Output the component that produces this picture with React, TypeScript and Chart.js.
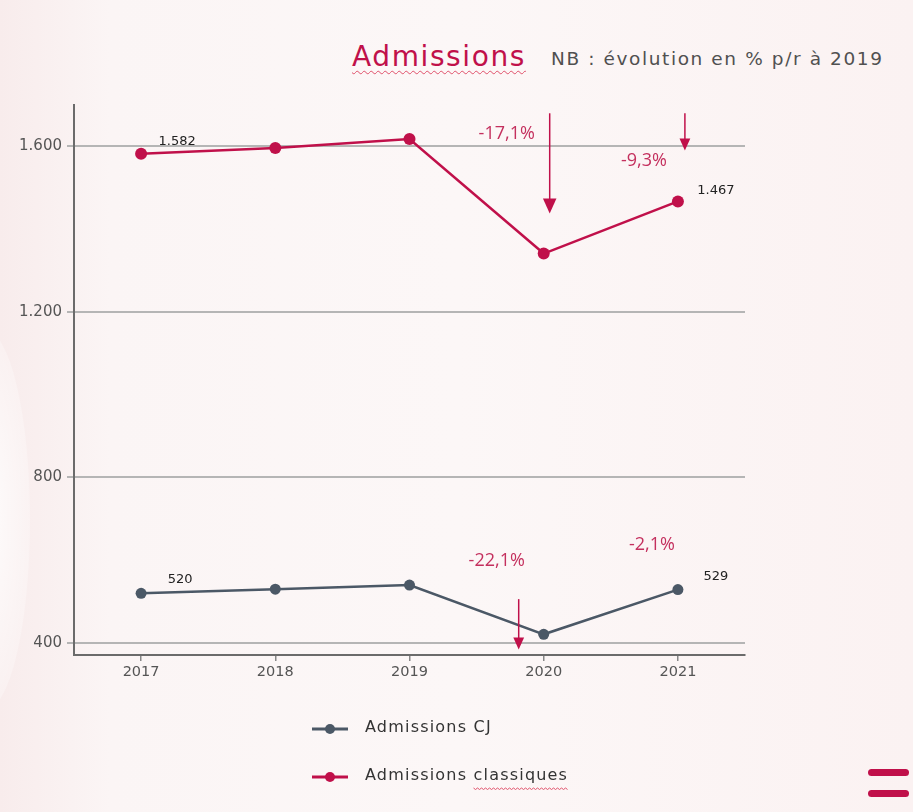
import React, { useEffect, useRef } from "react";
import { Chart, registerables } from "chart.js";
Chart.register(...registerables);

const years = ["2017", "2018", "2019", "2020", "2021"];
const classiques = [1582, 1596, 1618, 1341, 1467];
const cj = [520, 530, 540, 421, 529];
const yTicks = [400, 800, 1200, 1600];
const yTickLabels = ["400", "800", "1.200", "1.600"];
const seriesNames = ["Admissions CJ", "Admissions classiques"];
const valueLabels = ["1.582", "1.467", "520", "529"];
const pctLabels = ["-17,1%", "-9,3%", "-22,1%", "-2,1%"];

const CRIMSON = "#c0104a";
const SLATE = "#4b5866";
const FONT = "'Open Sans', 'Noto Sans', sans-serif";
const WIDE = "'DejaVu Sans', sans-serif";

// annotation anchors (category index + value on y axis, with small pixel offsets)
const valueLabelAnchors = [
  { ds: 1, idx: 0, dx: 36, dy: -12 },
  { ds: 1, idx: 4, dx: 38, dy: -11 },
  { ds: 0, idx: 0, dx: 39, dy: -14 },
  { ds: 0, idx: 4, dx: 38, dy: -13 },
];
const pctAnchors = [
  { idx: 3, value: 1631, dx: -37 },
  { idx: 4, value: 1566, dx: -34 },
  { idx: 3, value: 598, dx: -47 },
  { idx: 4, value: 636, dx: -26 },
];
const arrowAnchors = [
  { idx: 3, from: 1680, to: 1438, dx: 6, head: 15 },
  { idx: 4, from: 1680, to: 1590, dx: 7, head: 12 },
  { idx: 3, from: 506, to: 384, dx: -25, head: 12 },
];

const overlay = {
  id: "overlay",
  afterDatasetsDraw(chart: any) {
    const ctx = chart.ctx;
    const xs = chart.scales.x;
    const ys = chart.scales.y;
    ctx.save();
    // value labels
    ctx.font = `13px ${WIDE}`;
    ctx.fillStyle = "#222";
    ctx.textAlign = "center";
    ctx.textBaseline = "middle";
    valueLabelAnchors.forEach((a, i) => {
      const meta = chart.getDatasetMeta(a.ds);
      const pt = meta.data[a.idx];
      ctx.fillText(valueLabels[i], pt.x + a.dx, pt.y + a.dy);
    });
    // pct labels
    ctx.font = `18px ${FONT}`;
    ctx.fillStyle = "#c4305e";
    pctAnchors.forEach((a, i) => {
      ctx.fillText(pctLabels[i], xs.getPixelForValue(a.idx) + a.dx, ys.getPixelForValue(a.value));
    });
    // arrows
    ctx.strokeStyle = CRIMSON;
    ctx.fillStyle = CRIMSON;
    ctx.lineWidth = 1.5;
    arrowAnchors.forEach((a) => {
      const x = xs.getPixelForValue(a.idx) + a.dx;
      const y1 = ys.getPixelForValue(a.from);
      const y2 = ys.getPixelForValue(a.to);
      ctx.beginPath();
      ctx.moveTo(x, y1);
      ctx.lineTo(x, y2 - a.head + 2);
      ctx.stroke();
      ctx.beginPath();
      ctx.moveTo(x - a.head * 0.45, y2 - a.head);
      ctx.lineTo(x + a.head * 0.45, y2 - a.head);
      ctx.lineTo(x, y2);
      ctx.closePath();
      ctx.fill();
    });
    // legend
    const items = [
      { color: SLATE, y: 729 },
      { color: CRIMSON, y: 777 },
    ];
    ctx.font = `16px ${WIDE}`;
    (ctx as any).letterSpacing = "1.2px";
    ctx.textAlign = "left";
    items.forEach((it, i) => {
      ctx.strokeStyle = it.color;
      ctx.fillStyle = it.color;
      ctx.lineWidth = 3;
      ctx.beginPath();
      ctx.moveTo(312, it.y);
      ctx.lineTo(348, it.y);
      ctx.stroke();
      ctx.beginPath();
      ctx.arc(330, it.y, 5, 0, Math.PI * 2);
      ctx.fill();
      ctx.fillStyle = "#333";
      ctx.fillText(seriesNames[i], 365, it.y - 1);
    });
    // squiggly underline under "classiques"
    const start = 365 + ctx.measureText("Admissions ").width;
    const w = ctx.measureText("classiques").width;
    ctx.strokeStyle = "#e0506a";
    ctx.lineWidth = 1;
    ctx.beginPath();
    for (let x = 0; x <= w; x += 2) {
      const yy = 788 + (Math.floor(x / 2) % 2 === 0 ? 0 : 1.5);
      if (x === 0) ctx.moveTo(start + x, yy);
      else ctx.lineTo(start + x, yy);
    }
    ctx.stroke();
    ctx.restore();
  },
};

export default function App() {
  const ref = useRef<HTMLCanvasElement | null>(null);
  useEffect(() => {
    if (!ref.current) return;
    const chart = new Chart(ref.current, {
      type: "line",
      data: {
        labels: years,
        datasets: [
          {
            label: seriesNames[0],
            data: cj,
            borderColor: SLATE,
            backgroundColor: SLATE,
            borderWidth: 2.5,
            pointRadius: 5.5,
            pointBackgroundColor: SLATE,
            pointBorderWidth: 0,
            tension: 0,
          },
          {
            label: seriesNames[1],
            data: classiques,
            borderColor: CRIMSON,
            backgroundColor: CRIMSON,
            borderWidth: 2.5,
            pointRadius: 6,
            pointBackgroundColor: CRIMSON,
            pointBorderWidth: 0,
            tension: 0,
          },
        ],
      },
      options: {
        responsive: false,
        animation: false,
        layout: { padding: { left: 0, top: 105, right: 168, bottom: 117 } },
        plugins: { legend: { display: false }, tooltip: { enabled: false } },
        scales: {
          x: {
            offset: true,
            afterFit: (s: any) => {
              s.height = 40;
            },
            grid: { display: true, drawOnChartArea: false, drawTicks: true, tickLength: 6, color: "#888", lineWidth: 1.5 },
            border: { display: true, color: "#6b6b6b", width: 2 },
            ticks: { color: "#555", font: { family: WIDE, size: 14.5 }, padding: 3 },
          },
          y: {
            min: 371,
            max: 1700,
            afterFit: (s: any) => {
              s.width = 74;
            },
            afterBuildTicks: (s: any) => {
              s.ticks = yTicks.map((v) => ({ value: v }));
            },
            grid: { color: "#b5b5b5", lineWidth: 2, tickLength: 7, drawTicks: true },
            border: { display: true, color: "#6b6b6b", width: 2 },
            ticks: {
              color: "#555",
              font: { family: WIDE, size: 15 },
              padding: 5,
              callback: (v: any) => yTickLabels[yTicks.indexOf(Number(v))],
            },
          },
        },
      },
      plugins: [overlay],
    });
    return () => chart.destroy();
  }, []);

  return (
    <div
      style={{
        position: "fixed",
        left: 0,
        top: 0,
        width: 913,
        height: 812,
        overflow: "hidden",
        background: "linear-gradient(to right, #f8ecec 0%, #fbf5f5 12%, #fcf7f7 50%, #fbf2f2 100%)",
      }}
    >
      <div
        style={{
          position: "absolute",
          left: -60,
          top: 330,
          width: 90,
          height: 380,
          borderRadius: "50%",
          background: "radial-gradient(ellipse at center, rgba(255,255,255,0.9), rgba(255,255,255,0))",
        }}
      />
      <div
        style={{
          position: "absolute",
          left: 352,
          top: 40,
          fontFamily: WIDE,
          fontSize: 28,
          letterSpacing: 1.6,
          lineHeight: "34px",
          color: CRIMSON,
          textDecoration: "underline wavy #e0506a",
          textDecorationThickness: 1,
          textUnderlineOffset: 4,
          whiteSpace: "nowrap",
        }}
      >
        Admissions
      </div>
      <div
        style={{
          position: "absolute",
          left: 551,
          top: 46,
          fontFamily: WIDE,
          fontSize: 18.5,
          letterSpacing: 1.6,
          lineHeight: "26px",
          color: "#505050",
          whiteSpace: "nowrap",
        }}
      >
        NB : évolution en % p/r à 2019
      </div>
      <canvas ref={ref} width={913} height={812} style={{ position: "absolute", left: 0, top: 0 }} />
      <div style={{ position: "absolute", left: 868, top: 769, width: 41, height: 7, borderRadius: 4, background: CRIMSON }} />
      <div style={{ position: "absolute", left: 868, top: 790, width: 41, height: 7, borderRadius: 4, background: CRIMSON }} />
    </div>
  );
}
